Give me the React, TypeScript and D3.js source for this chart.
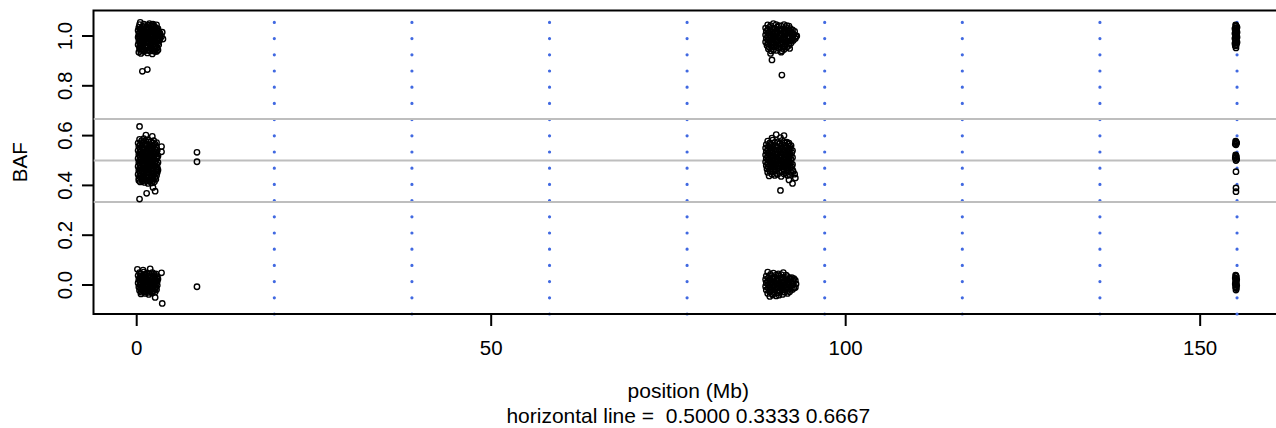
import React from 'react';
import * as d3 from 'd3';

// ---- data (position in Mb, B allele frequency) ----
const xTicks = [0, 50, 100, 150];
const yTicks = [0, 0.2, 0.4, 0.6, 0.8, 1.0];
const refLines = [0.5, 0.3333, 0.6667];
const segBreaks = [19.41, 38.82, 58.23, 77.63, 97.04, 116.45, 135.86, 155.2];
const subtitle = 'horizontal line =  0.5000 0.3333 0.6667';

const c1High: [number, number][] = [
  [0.5, 1.055], [1.8, 1.05], [2.3, 1.048], [2.8, 1.045], [1.2, 1.042],
  [0.3, 1.035], [0.8, 1.038], [1.5, 1.036], [2.0, 1.04], [2.6, 1.034], [3.0, 1.03],
  [0.2, 1.022], [0.6, 1.025], [1.0, 1.02], [1.4, 1.026], [1.9, 1.022], [2.4, 1.024], [2.8, 1.02], [3.1, 1.018],
  [0.3, 1.008], [0.7, 1.012], [1.1, 1.005], [1.6, 1.01], [2.1, 1.006], [2.5, 1.012], [2.9, 1.004], [3.6, 1.015],
  [0.2, 0.995], [0.5, 0.998], [0.9, 0.992], [1.3, 0.996], [1.8, 0.99], [2.2, 0.997], [2.6, 0.993], [3.0, 0.99], [3.5, 0.998], [3.7, 0.988],
  [0.3, 0.98], [0.7, 0.978], [1.1, 0.983], [1.5, 0.976], [2.0, 0.981], [2.4, 0.979], [2.8, 0.975], [3.2, 0.982],
  [0.2, 0.965], [0.6, 0.962], [1.0, 0.968], [1.4, 0.96], [1.9, 0.966], [2.3, 0.963], [2.7, 0.958], [3.1, 0.965],
  [0.4, 0.95], [0.8, 0.946], [1.2, 0.952], [1.7, 0.944], [2.1, 0.95], [2.6, 0.947], [3.0, 0.944],
  [0.3, 0.935], [0.6, 0.93], [1.0, 0.938], [1.5, 0.932], [2.2, 0.928], [2.6, 0.938],
  [0.8, 0.858], [1.5, 0.865],
];
const c1HighFill: [number, number][] = [
  [0.4, 1.046], [1.0, 1.048], [1.6, 1.044], [2.1, 1.046], [2.5, 1.04],
  [0.45, 1.028], [0.95, 1.03], [1.25, 1.032], [1.7, 1.03], [2.2, 1.028], [2.5, 1.03], [2.9, 1.026],
  [0.4, 1.014], [0.85, 1.016], [1.3, 1.014], [1.8, 1.016], [2.3, 1.014], [2.7, 1.012], [3.0, 1.012], [3.3, 1.01],
  [0.35, 1.0], [0.7, 1.002], [1.15, 0.999], [1.55, 1.002], [2.0, 0.998], [2.4, 1.0], [2.8, 0.998], [3.2, 1.0],
  [0.45, 0.987], [1.05, 0.986], [1.5, 0.988], [1.95, 0.985], [2.45, 0.986], [2.85, 0.984], [3.3, 0.99],
  [0.45, 0.972], [0.85, 0.972], [1.25, 0.974], [1.7, 0.972], [2.15, 0.972], [2.55, 0.968], [2.95, 0.97],
  [0.4, 0.957], [0.8, 0.955], [1.2, 0.96], [1.6, 0.955], [2.05, 0.958], [2.45, 0.955], [2.85, 0.952],
  [0.55, 0.942], [1.0, 0.944], [1.4, 0.942], [1.9, 0.94], [2.35, 0.94], [2.8, 0.938],
];

const c1Mid: [number, number][] = [
  [0.4, 0.637], [1.3, 0.602], [2.2, 0.597], [2.8, 0.572], [3.5, 0.556], [3.5, 0.535],
  [0.4, 0.585], [1.0, 0.588], [1.6, 0.582], [2.4, 0.58],
  [0.2, 0.57], [0.7, 0.572], [1.2, 0.568], [1.7, 0.574], [2.2, 0.57], [2.6, 0.566],
  [0.3, 0.556], [0.8, 0.552], [1.3, 0.558], [1.8, 0.55], [2.3, 0.556], [2.8, 0.552],
  [0.2, 0.54], [0.6, 0.536], [1.0, 0.542], [1.5, 0.538], [2.0, 0.54], [2.5, 0.535], [2.9, 0.54],
  [0.3, 0.524], [0.8, 0.52], [1.2, 0.526], [1.7, 0.522], [2.2, 0.52], [2.7, 0.525], [3.0, 0.518],
  [0.2, 0.508], [0.6, 0.505], [1.0, 0.51], [1.5, 0.504], [2.0, 0.508], [2.4, 0.502], [2.8, 0.507],
  [0.3, 0.492], [0.8, 0.488], [1.2, 0.495], [1.7, 0.49], [2.2, 0.494], [2.6, 0.488], [3.0, 0.492],
  [0.2, 0.476], [0.6, 0.472], [1.0, 0.478], [1.5, 0.474], [2.0, 0.47], [2.5, 0.476], [2.9, 0.472],
  [0.3, 0.46], [0.8, 0.456], [1.2, 0.462], [1.7, 0.455], [2.2, 0.46], [2.7, 0.457], [3.0, 0.462],
  [0.2, 0.444], [0.6, 0.44], [1.0, 0.446], [1.5, 0.442], [2.0, 0.438], [2.4, 0.445], [2.8, 0.44],
  [0.3, 0.428], [0.8, 0.424], [1.3, 0.43], [1.8, 0.422], [2.3, 0.428], [2.7, 0.425],
  [0.5, 0.414], [1.1, 0.412], [1.6, 0.418], [2.1, 0.41], [2.5, 0.415],
  [1.6, 0.408], [1.4, 0.368], [2.3, 0.392], [2.6, 0.377], [0.4, 0.345],
];
const c1MidFill: [number, number][] = [
  [0.7, 0.58], [1.3, 0.578], [2.0, 0.576],
  [0.45, 0.563], [0.95, 0.562], [1.45, 0.564], [1.95, 0.56], [2.45, 0.562],
  [0.5, 0.547], [1.05, 0.546], [1.55, 0.548], [2.05, 0.546], [2.6, 0.545],
  [0.4, 0.532], [0.85, 0.53], [1.3, 0.532], [1.8, 0.53], [2.3, 0.53], [2.75, 0.532],
  [0.5, 0.516], [1.0, 0.515], [1.45, 0.516], [1.95, 0.514], [2.45, 0.515], [2.9, 0.512],
  [0.4, 0.5], [0.8, 0.498], [1.25, 0.5], [1.75, 0.498], [2.2, 0.5], [2.65, 0.497],
  [0.5, 0.484], [1.0, 0.483], [1.45, 0.484], [1.95, 0.482], [2.4, 0.482], [2.85, 0.484],
  [0.4, 0.468], [0.85, 0.466], [1.3, 0.468], [1.75, 0.465], [2.25, 0.467], [2.75, 0.465],
  [0.5, 0.452], [1.0, 0.45], [1.45, 0.452], [1.95, 0.45], [2.45, 0.45], [2.9, 0.452],
  [0.4, 0.436], [0.85, 0.434], [1.3, 0.436], [1.75, 0.433], [2.2, 0.435], [2.6, 0.433],
  [0.3, 0.42], [0.8, 0.418], [1.35, 0.42], [1.85, 0.417], [2.3, 0.42],
];

const c1Low: [number, number][] = [
  [0.1, 0.063], [0.9, 0.06], [1.9, 0.065], [3.5, 0.049], [2.6, -0.05], [3.6, -0.074],
  [0.4, 0.05], [1.0, 0.052], [1.5, 0.048], [2.2, 0.05], [2.7, 0.045],
  [0.2, 0.038], [0.6, 0.035], [1.1, 0.04], [1.6, 0.036], [2.0, 0.033], [2.5, 0.038], [2.9, 0.034],
  [0.3, 0.022], [0.8, 0.02], [1.2, 0.025], [1.7, 0.018], [2.2, 0.022], [2.7, 0.02], [3.0, 0.024],
  [0.2, 0.008], [0.6, 0.005], [1.0, 0.01], [1.5, 0.004], [2.0, 0.008], [2.4, 0.002], [2.8, 0.007],
  [0.3, -0.008], [0.8, -0.01], [1.3, -0.005], [1.8, -0.012], [2.3, -0.007], [2.7, -0.01],
  [0.4, -0.022], [0.9, -0.025], [1.4, -0.02], [1.9, -0.026], [2.4, -0.022], [2.8, -0.018],
  [0.6, -0.036], [1.2, -0.034], [1.7, -0.038], [2.2, -0.032],
];
const c1LowFill: [number, number][] = [
  [0.6, 0.044], [1.25, 0.045], [1.8, 0.043], [2.45, 0.044],
  [0.4, 0.029], [0.85, 0.028], [1.35, 0.03], [1.85, 0.027], [2.35, 0.029], [2.8, 0.028],
  [0.45, 0.014], [0.8, 0.013], [1.25, 0.015], [1.75, 0.012], [2.2, 0.014], [2.6, 0.013], [2.9, 0.015],
  [0.45, 0.0], [1.05, -0.001], [1.55, 0.0], [2.05, -0.002], [2.5, 0.0], [2.9, -0.001],
  [0.55, -0.015], [1.1, -0.016], [1.6, -0.014], [2.05, -0.017], [2.55, -0.014],
  [0.65, -0.029], [1.15, -0.028], [1.65, -0.03], [2.15, -0.027], [2.6, -0.028],
];

const c1Extra: [number, number][] = [[8.5, 0.533], [8.5, 0.495], [8.5, -0.007]];

const c2High: [number, number][] = [
  [89.0, 1.045], [89.8, 1.05], [90.6, 1.042], [91.3, 1.046], [92.0, 1.04],
  [88.7, 1.032], [89.3, 1.035], [89.9, 1.03], [90.4, 1.036], [91.0, 1.028], [91.6, 1.034], [92.2, 1.03],
  [88.8, 1.018], [89.4, 1.02], [90.0, 1.015], [90.6, 1.022], [91.2, 1.016], [91.8, 1.02], [92.4, 1.014], [92.8, 1.018],
  [88.7, 1.004], [89.2, 1.006], [89.8, 1.0], [90.3, 1.008], [90.9, 1.002], [91.5, 1.006], [92.1, 1.0], [92.7, 1.004], [93.0, 0.998],
  [88.8, 0.99], [89.4, 0.992], [90.0, 0.986], [90.6, 0.994], [91.2, 0.988], [91.8, 0.992], [92.4, 0.986], [92.9, 0.99],
  [88.7, 0.976], [89.3, 0.978], [89.9, 0.972], [90.5, 0.98], [91.1, 0.974], [91.7, 0.978], [92.3, 0.972],
  [88.9, 0.962], [89.5, 0.964], [90.2, 0.958], [90.8, 0.966], [91.4, 0.96], [92.0, 0.962],
  [89.1, 0.948], [89.8, 0.944], [90.6, 0.95], [91.3, 0.946], [92.1, 0.95],
  [89.4, 0.93], [90.9, 0.935],
  [89.6, 0.904], [91.0, 0.843],
];
const c2HighFill: [number, number][] = [
  [89.4, 1.042], [90.2, 1.046], [90.9, 1.04], [91.7, 1.042],
  [89.0, 1.025], [89.6, 1.027], [90.2, 1.022], [90.8, 1.026], [91.4, 1.022], [92.0, 1.026], [92.5, 1.024],
  [89.1, 1.011], [89.7, 1.01], [90.3, 1.013], [90.9, 1.009], [91.5, 1.012], [92.1, 1.01], [92.6, 1.008],
  [89.0, 0.997], [89.5, 0.998], [90.1, 0.995], [90.7, 0.999], [91.3, 0.996], [91.9, 0.997], [92.5, 0.995], [93.1, 1.0],
  [89.1, 0.983], [89.7, 0.984], [90.3, 0.98], [90.9, 0.984], [91.5, 0.982], [92.1, 0.98], [92.6, 0.982],
  [89.0, 0.969], [89.6, 0.97], [90.2, 0.966], [90.8, 0.972], [91.4, 0.968], [92.0, 0.97],
  [89.2, 0.955], [89.9, 0.956], [90.5, 0.953], [91.1, 0.957], [91.7, 0.955],
  [89.5, 0.94], [90.2, 0.942], [91.0, 0.94],
];

const c2Mid: [number, number][] = [
  [90.2, 0.604], [91.3, 0.6], [89.6, 0.59], [90.8, 0.592],
  [89.0, 0.578], [89.7, 0.582], [90.4, 0.575], [91.0, 0.58], [91.7, 0.574],
  [88.8, 0.564], [89.4, 0.566], [90.1, 0.56], [90.7, 0.568], [91.3, 0.562], [91.9, 0.566], [92.3, 0.56],
  [88.7, 0.55], [89.3, 0.552], [89.9, 0.546], [90.5, 0.554], [91.1, 0.548], [91.7, 0.552], [92.2, 0.546],
  [88.8, 0.536], [89.4, 0.538], [90.0, 0.532], [90.6, 0.54], [91.2, 0.534], [91.8, 0.538], [92.4, 0.532],
  [88.7, 0.522], [89.2, 0.524], [89.8, 0.518], [90.4, 0.526], [91.0, 0.52], [91.6, 0.524], [92.2, 0.518],
  [88.8, 0.508], [89.4, 0.51], [90.0, 0.504], [90.6, 0.512], [91.2, 0.506], [91.8, 0.51], [92.3, 0.504],
  [88.7, 0.494], [89.3, 0.496], [89.9, 0.49], [90.5, 0.498], [91.1, 0.492], [91.7, 0.496], [92.2, 0.49],
  [88.8, 0.48], [89.4, 0.482], [90.0, 0.476], [90.6, 0.484], [91.2, 0.478], [91.8, 0.482], [92.4, 0.476],
  [88.9, 0.466], [89.5, 0.468], [90.1, 0.462], [90.7, 0.47], [91.3, 0.464], [91.9, 0.468], [92.5, 0.462],
  [89.0, 0.452], [89.7, 0.454], [90.3, 0.448], [91.0, 0.455], [91.6, 0.45], [92.3, 0.452], [92.8, 0.445],
  [89.2, 0.438], [90.0, 0.44], [90.9, 0.436], [91.8, 0.44], [92.9, 0.43],
  [92.0, 0.422], [92.5, 0.408], [90.8, 0.38],
];
const c2MidFill: [number, number][] = [
  [89.3, 0.571], [90.0, 0.572], [90.7, 0.57], [91.4, 0.571], [92.0, 0.57],
  [89.1, 0.557], [89.7, 0.558], [90.3, 0.555], [90.9, 0.558], [91.5, 0.556], [92.1, 0.557],
  [89.0, 0.543], [89.6, 0.544], [90.2, 0.541], [90.8, 0.544], [91.4, 0.542], [92.0, 0.543], [92.5, 0.54],
  [89.1, 0.529], [89.7, 0.53], [90.3, 0.527], [90.9, 0.53], [91.5, 0.528], [92.1, 0.529],
  [89.0, 0.515], [89.6, 0.516], [90.2, 0.513], [90.8, 0.516], [91.4, 0.514], [92.0, 0.515], [92.5, 0.512],
  [89.1, 0.501], [89.7, 0.502], [90.3, 0.499], [90.9, 0.502], [91.5, 0.5], [92.0, 0.501],
  [89.0, 0.487], [89.6, 0.488], [90.2, 0.485], [90.8, 0.488], [91.4, 0.486], [92.0, 0.487], [92.5, 0.484],
  [89.1, 0.473], [89.8, 0.474], [90.4, 0.471], [91.0, 0.474], [91.6, 0.472], [92.2, 0.473],
  [89.3, 0.459], [90.0, 0.46], [90.6, 0.457], [91.3, 0.46], [91.9, 0.458], [92.6, 0.456],
  [89.6, 0.445], [90.4, 0.444], [91.3, 0.446], [92.1, 0.443],
];

const c2Low: [number, number][] = [
  [89.0, 0.052], [89.8, 0.048], [90.5, 0.045], [91.2, 0.05],
  [88.8, 0.036], [89.4, 0.038], [90.0, 0.032], [90.6, 0.036], [91.2, 0.03], [91.8, 0.034], [92.4, 0.03],
  [88.7, 0.022], [89.3, 0.02], [89.9, 0.024], [90.5, 0.018], [91.1, 0.022], [91.7, 0.02], [92.3, 0.024], [92.9, 0.018],
  [88.8, 0.008], [89.4, 0.006], [90.0, 0.01], [90.6, 0.004], [91.2, 0.008], [91.8, 0.006], [92.4, 0.01], [93.0, 0.004],
  [88.7, -0.006], [89.3, -0.008], [89.9, -0.004], [90.5, -0.01], [91.1, -0.006], [91.7, -0.008], [92.3, -0.004], [92.9, -0.01],
  [88.8, -0.02], [89.4, -0.022], [90.0, -0.018], [90.6, -0.024], [91.2, -0.02], [91.8, -0.022], [92.5, -0.018],
  [89.0, -0.034], [89.7, -0.036], [90.4, -0.032], [91.1, -0.038], [91.8, -0.034],
  [89.3, -0.046], [90.2, -0.044],
];
const c2LowFill: [number, number][] = [
  [89.4, 0.043], [90.2, 0.04], [90.9, 0.042], [91.6, 0.04],
  [89.1, 0.029], [89.7, 0.028], [90.3, 0.026], [90.9, 0.03], [91.5, 0.027], [92.1, 0.028], [92.7, 0.026],
  [89.0, 0.015], [89.6, 0.014], [90.2, 0.016], [90.8, 0.012], [91.4, 0.015], [92.0, 0.014], [92.6, 0.016],
  [89.1, 0.001], [89.7, 0.0], [90.3, 0.002], [90.9, -0.002], [91.5, 0.001], [92.0, 0.0], [92.6, 0.002],
  [89.1, -0.013], [89.7, -0.014], [90.3, -0.011], [90.9, -0.016], [91.5, -0.013], [92.1, -0.014], [92.7, -0.012],
  [89.3, -0.027], [90.0, -0.028], [90.7, -0.026], [91.4, -0.029], [92.1, -0.027],
  [89.7, -0.04], [90.6, -0.041],
];

const c3Points: [number, number][] = [
  [155.0, 1.045], [155.1, 1.04], [155.2, 1.035], [154.9, 1.03], [155.1, 1.025], [155.0, 1.02],
  [155.2, 1.015], [154.9, 1.01], [155.1, 1.005], [155.0, 1.0], [155.2, 0.995], [154.9, 0.99],
  [155.1, 0.985], [155.0, 0.98], [155.2, 0.975], [154.9, 0.97], [155.1, 0.965], [155.0, 0.96],
  [155.05, 1.042], [155.15, 1.032], [154.95, 1.022], [155.05, 1.012], [155.15, 1.002],
  [154.95, 0.992], [155.05, 0.982], [155.15, 0.972], [154.95, 0.962], [155.05, 0.952],
  [155.0, 0.578], [155.1, 0.572], [154.95, 0.566], [155.15, 0.57], [155.05, 0.563], [155.05, 0.575],
  [155.0, 0.522], [155.1, 0.516], [154.95, 0.51], [155.15, 0.505], [155.05, 0.5], [155.0, 0.512], [155.05, 0.518],
  [155.05, 0.455], [155.05, 0.39], [155.05, 0.375],
  [155.0, 0.04], [155.1, 0.034], [154.95, 0.028], [155.15, 0.022], [155.0, 0.016], [155.1, 0.01],
  [154.95, 0.004], [155.15, -0.002], [155.0, -0.008], [155.1, -0.014], [155.05, -0.02],
  [155.05, 0.037], [155.05, 0.025], [155.05, 0.013], [155.05, 0.001], [155.05, -0.011],
];

// ---- layout ----
const W = 1276;
const H = 428;
const L = 93.5;
const R = 1281;
const T = 10.5;
const B = 314;
const FONT = '"Liberation Sans", Arial, Helvetica, sans-serif';
const FS = 20.5;
const FS_TITLE = 21;

export default function App() {
  const x = d3.scaleLinear().domain([-6.094, 161.4]).range([L, R]);
  const y = d3.scaleLinear().domain([0, 1]).range([285, 36]);
  const allPoints = [
    ...c1High, ...c1HighFill, ...c1Mid, ...c1MidFill, ...c1Low, ...c1LowFill, ...c1Extra,
    ...c2High, ...c2HighFill, ...c2Mid, ...c2MidFill, ...c2Low, ...c2LowFill, ...c3Points,
  ];
  const fmt = d3.format('.1f');
  const midX = (L + R) / 2 + 1;
  const midY = (T + B) / 2;

  return (
    <svg
      width={W}
      height={H}
      style={{ position: 'absolute', left: 0, top: 0, background: '#fff' }}
      fontFamily={FONT}
      fontSize={FS}
    >
      <defs>
        <clipPath id="plotclip">
          <rect x={L} y={T} width={R - L} height={B - T} />
        </clipPath>
      </defs>
      <rect x={0} y={0} width={W} height={H} fill="#fff" />

      {/* box */}
      <rect x={L} y={T} width={R - L} height={B - T} fill="none" stroke="#000" strokeWidth={2} />

      {/* segment boundaries */}
      <g>
        {segBreaks.map((b, i) => (
          <line
            key={i}
            x1={x(b)}
            x2={x(b)}
            y1={B}
            y2={T}
            stroke="#4169E1"
            strokeWidth={3.2}
            strokeLinecap="round"
            strokeDasharray="0 16.2"
          />
        ))}
      </g>

      {/* reference lines */}
      <g clipPath="url(#plotclip)">
        {refLines.map((v, i) => (
          <line key={i} x1={L} x2={R} y1={y(v)} y2={y(v)} stroke="#BEBEBE" strokeWidth={2} />
        ))}
      </g>

      {/* points */}
      <g clipPath="url(#plotclip)">
        {allPoints.map((p, i) => (
          <circle key={i} cx={x(p[0])} cy={y(p[1])} r={2.7} fill="none" stroke="#000" strokeWidth={1.4} />
        ))}
      </g>

      {/* x axis */}
      <g>
        <line x1={x(xTicks[0])} x2={x(xTicks[xTicks.length - 1])} y1={B} y2={B} stroke="#000" strokeWidth={2} />
        {xTicks.map((t) => (
          <g key={t}>
            <line x1={x(t)} x2={x(t)} y1={B} y2={B + 12} stroke="#000" strokeWidth={2} />
            <text x={x(t)} y={355} textAnchor="middle">{t}</text>
          </g>
        ))}
      </g>

      {/* y axis */}
      <g>
        {yTicks.map((t) => (
          <g key={t}>
            <line x1={L} x2={L - 11.5} y1={y(t)} y2={y(t)} stroke="#000" strokeWidth={2} />
            <text transform={`translate(71.5,${y(t)}) rotate(-90)`} textAnchor="middle">{fmt(t)}</text>
          </g>
        ))}
      </g>

      {/* labels */}
      <text transform={`translate(26.5,${midY}) rotate(-90)`} textAnchor="middle">BAF</text>
      <text x={midX} y={398} textAnchor="middle" fontSize={FS_TITLE}>position (Mb)</text>
      <text x={midX} y={423} textAnchor="middle" fontSize={FS_TITLE} style={{ whiteSpace: 'pre' }}>{subtitle}</text>
    </svg>
  );
}
